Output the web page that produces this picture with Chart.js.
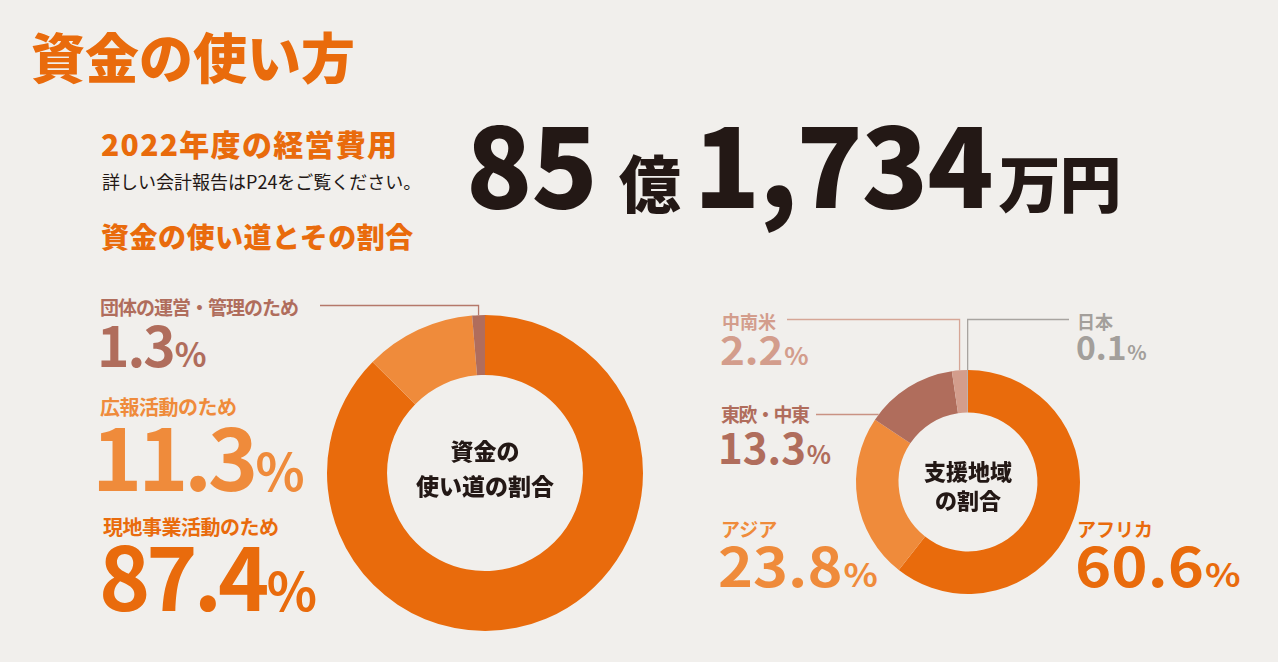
<!DOCTYPE html>
<html lang="ja">
<head>
<meta charset="utf-8">
<script src="https://cdn.jsdelivr.net/npm/chart.js@4.4.0/dist/chart.umd.min.js"></script>
<style>
html,body{margin:0;padding:0;background:#f1efec;}
body{width:1278px;height:662px;position:relative;overflow:hidden;font-family:"Noto Sans CJK JP","Noto Sans",sans-serif;}
canvas{position:absolute;left:0;top:0;}
.t{position:absolute;white-space:nowrap;line-height:1;font-weight:700;transform-origin:0 0;}
.pc{font-size:0.6em;margin-left:0.03em;letter-spacing:0;}
</style>
</head>
<body>

<div class="t" style="left:31px;top:29px;font-size:54px;font-weight:900;color:#e96b0c;">資金の使い方</div>
<div class="t" style="left:101px;top:128px;font-size:30px;font-weight:900;color:#e96b0c;letter-spacing:1.3px;">2022年度の経営費用</div>
<div class="t" style="left:102px;top:172px;font-size:18px;font-weight:400;color:#231815;">詳しい会計報告はP24をご覧ください。</div>
<div class="t" style="left:101px;top:222px;font-size:28px;font-weight:900;color:#e96b0c;letter-spacing:0.5px;">資金の使い道とその割合</div>

<div class="t" id="total" style="left:466px;top:106px;font-size:109px;font-weight:900;color:#231815;letter-spacing:-1px;">
  <span id="okuNum"></span><span style="font-size:62px;margin:0 14px 0 22px;">億</span><span id="manNum"></span><span style="font-size:62px;margin-left:6px;">万円</span>
</div>

<div id="labels"></div>

<canvas id="useChart" width="1278" height="662"></canvas>
<canvas id="regionChart" width="1278" height="662"></canvas>

<script>
// 経常費用
var totalOku = "85";
var totalMan = "1,734";

// 資金の使い道
var useLabels = ["現地事業活動のため", "広報活動のため", "団体の運営・管理のため"];
var useValues = [87.4, 11.3, 1.3];
var useColors = ["#e96b0c", "#ef8b3b", "#b06d5c"];

// 支援地域
var regionLabels = ["アフリカ", "アジア", "東欧・中東", "中南米", "日本"];
var regionValues = [60.6, 23.8, 13.3, 2.2, 0.1];
var regionColors = ["#e96b0c", "#ef8b3b", "#b06d5c", "#d39d8c", "#a39f9b"];

document.getElementById("okuNum").textContent = totalOku;
document.getElementById("manNum").textContent = totalMan;

/* ラベルの配置 */
var useLayout = [
  {x: 103, y: 517, nameSize: 20, nls: -0.5, x2: 99, y2: 530, valSize: 87, vls: -4, sx: 1},
  {x: 100, y: 397, nameSize: 20, nls: -0.5, x2: 92, y2: 411, valSize: 85, vls: -4, sx: 1},
  {x: 100, y: 297, nameSize: 19, nls: -1, x2: 97, y2: 316, valSize: 55, vls: -2, sx: 1}
];
var regionLayout = [
  {x: 1077, y: 519, nameSize: 19, nls: 0, x2: 1075, y2: 537, valSize: 54, vls: 0, sx: 1.14},
  {x: 721, y: 519, nameSize: 19, nls: 0, x2: 718, y2: 537, valSize: 54, vls: 0, sx: 1.1},
  {x: 721, y: 404, nameSize: 19, nls: -1.5, x2: 718, y2: 425, valSize: 42, vls: 0, sx: 1},
  {x: 722, y: 312, nameSize: 18, nls: 0, x2: 720, y2: 329, valSize: 39, vls: 0, sx: 1.08},
  {x: 1077, y: 312, nameSize: 18, nls: 0, x2: 1076, y2: 330, valSize: 32, vls: 0, sx: 1.05}
];

function ラベル作成(labels, values, colors, layout) {
  var html = "";
  for (var i = 0; i < labels.length; i++) {
    var l = layout[i];
    html += "<div class='t' style='left:"+l.x+"px;top:"+l.y+"px;font-size:"+l.nameSize+"px;color:"+colors[i]+";letter-spacing:"+l.nls+"px;'>"+labels[i]+"</div>";
    html += "<div class='t' style='left:"+l.x2+"px;top:"+l.y2+"px;font-size:"+l.valSize+"px;color:"+colors[i]+";letter-spacing:"+l.vls+"px;transform:scaleX("+l.sx+");'>"+values[i].toFixed(1)+"<span class='pc'>%</span></div>";
  }
  document.getElementById("labels").innerHTML += html;
}
ラベル作成(useLabels, useValues, useColors, useLayout);
ラベル作成(regionLabels, regionValues, regionColors, regionLayout);

/* 引き出し線と中央の文字 */
var donutExtras = {
  id: "donutExtras",
  afterDatasetsDraw: function (chart, args, opts) {
    var ctx = chart.ctx;
    var meta = chart.getDatasetMeta(0);
    var arc0 = meta.data[0];
    var cx = arc0.x, cy = arc0.y, r = arc0.outerRadius;
    ctx.save();
    ctx.lineWidth = 1.3;
    (opts.leaders || []).forEach(function (ld) {
      var a = meta.data[ld.index];
      ctx.strokeStyle = ld.color;
      ctx.beginPath();
      if (ld.type == "elbow") {
        var mid = (a.startAngle + a.endAngle) / 2;
        var px = cx + r * Math.cos(mid);
        var py = cy + r * Math.sin(mid);
        ctx.moveTo(ld.x, ld.y);
        ctx.lineTo(px, ld.y);
        ctx.lineTo(px, py);
      } else {
        var dy = ld.y - cy;
        var hx = cx - Math.sqrt(r * r - dy * dy);
        ctx.moveTo(ld.x, ld.y);
        ctx.lineTo(hx, ld.y);
      }
      ctx.stroke();
    });
    ctx.fillStyle = "#231815";
    ctx.textAlign = "center";
    ctx.textBaseline = "middle";
    ctx.font = "900 " + opts.fontSize + "px 'Noto Sans CJK JP'";
    (opts.lines || []).forEach(function (ln) {
      ctx.fillText(ln.text, cx, cy + ln.dy);
    });
    ctx.restore();
  }
};

function donutOlustur(id, labels, values, colors, padding, extras) {
  return new Chart(document.getElementById(id), {
    type: "doughnut",
    data: {
      labels: labels,
      datasets: [{
        data: values,
        backgroundColor: colors,
        borderWidth: 0
      }]
    },
    options: {
      responsive: false,
      animation: false,
      cutout: "62%",
      layout: {padding: padding},
      plugins: {
        legend: {display: false},
        tooltip: {enabled: false},
        donutExtras: extras
      }
    },
    plugins: [donutExtras]
  });
}

donutOlustur("useChart", useLabels, useValues, useColors,
  {left: 327, top: 315, right: 635, bottom: 31},
  {
    fontSize: 23,
    lines: [{text: "資金の", dy: -22}, {text: "使い道の割合", dy: 13}],
    leaders: [{index: 2, type: "elbow", x: 320, y: 305.5, color: "#b5786a"}]
  });

donutOlustur("regionChart", regionLabels, regionValues, regionColors,
  {left: 856, top: 370, right: 198, bottom: 68},
  {
    fontSize: 22,
    lines: [{text: "支援地域", dy: -10}, {text: "の割合", dy: 19}],
    leaders: [
      {index: 3, type: "elbow", x: 787, y: 319.5, color: "#d6a696"},
      {index: 4, type: "elbow", x: 1069, y: 319.5, color: "#a8a4a0"},
      {index: 2, type: "horizontal", x: 816, y: 414.5, color: "#c99283"}
    ]
  });
</script>
</body>
</html>
